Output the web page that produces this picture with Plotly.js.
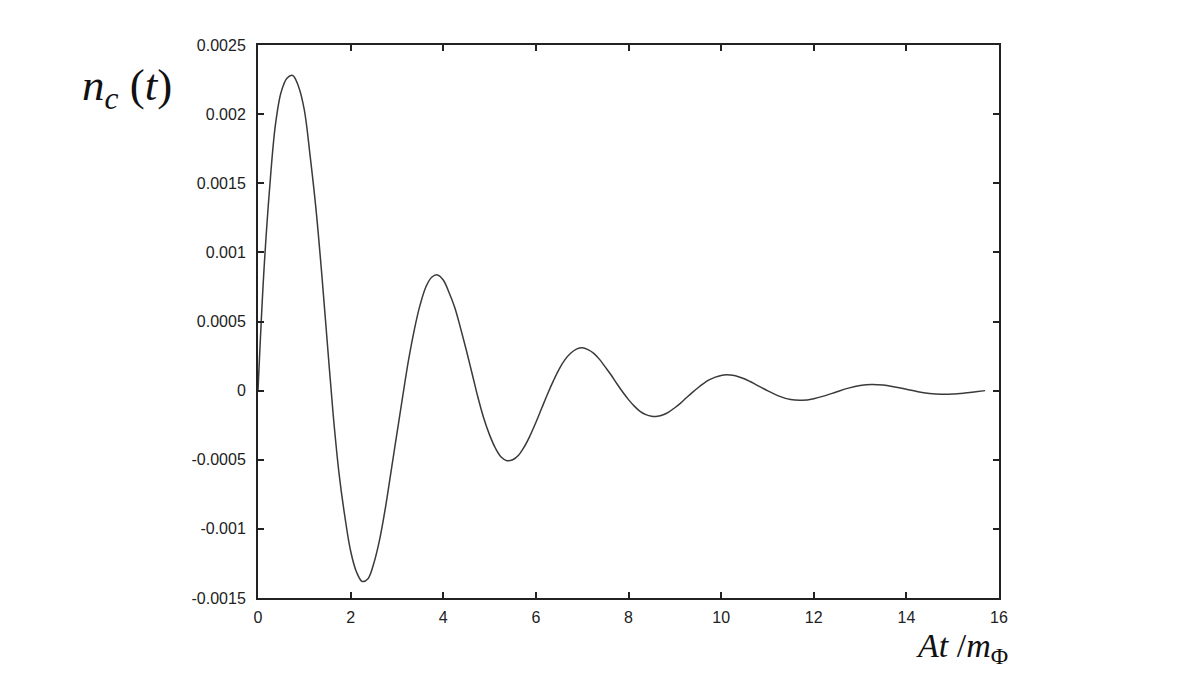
<!DOCTYPE html>
<html>
<head>
<meta charset="utf-8">
<script src="https://cdn.plot.ly/plotly-3.0.1.min.js"></script>
<style>
  html, body { margin: 0; padding: 0; background: #ffffff; }
  #chart { width: 1196px; height: 673px; }
</style>
</head>
<body>
<div id="chart"></div>
<script>
/* n_c(t) против At/m_Phi */
var tValues = [
    0, 0.125, 0.25, 0.375, 0.5, 0.625, 0.75, 0.875, 1.0, 1.125, 1.25, 1.375,
    1.5, 1.625, 1.75, 1.875, 2.0, 2.125, 2.25, 2.375, 2.5, 2.625, 2.75, 2.875,
    3.0, 3.125, 3.25, 3.375, 3.5, 3.625, 3.75, 3.875, 4.0, 4.125, 4.25, 4.375,
    4.5, 4.625, 4.75, 4.875, 5.0, 5.125, 5.25, 5.375, 5.5, 5.625, 5.75, 5.875,
    6.0, 6.125, 6.25, 6.375, 6.5, 6.625, 6.75, 6.875, 7.0, 7.125, 7.25, 7.375,
    7.5, 7.625, 7.75, 7.875, 8.0, 8.125, 8.25, 8.375, 8.5, 8.625, 8.75, 8.875,
    9.0, 9.125, 9.25, 9.375, 9.5, 9.625, 9.75, 9.875, 10.0, 10.125, 10.25, 10.375,
    10.5, 10.625, 10.75, 10.875, 11.0, 11.25, 11.5, 11.75, 12.0, 12.25, 12.5, 12.75,
    13.0, 13.25, 13.5, 13.75, 14.0, 14.25, 14.5, 14.75, 15.0, 15.25, 15.5, 15.7
];
var ncValues = [
    0, 0.00085, 0.00146, 0.00192, 0.00216, 0.00226, 0.00228, 0.00220, 0.00203, 0.00170, 0.00132, 0.00085,
    0.00033, -0.00018, -0.00060, -0.00091, -0.00116, -0.00131, -0.00138, -0.00136, -0.00125, -0.00108, -0.00085, -0.00058,
    -0.00031, -0.00004, 0.00022, 0.00044, 0.00062, 0.00075, 0.00082, 0.000837, 0.00080, 0.00071, 0.00060, 0.00045,
    0.00029, 0.00012, -0.00005, -0.00020, -0.00032, -0.000415, -0.00048, -0.000507, -0.00050, -0.000467, -0.000406, -0.000325,
    -0.00023, -0.000128, -0.000026, 0.000069, 0.000154, 0.000222, 0.00027, 0.00030, 0.00031, 0.000297, 0.00027, 0.000226,
    0.00017, 0.000113, 0.00005, -0.00001, -0.000065, -0.000112, -0.00015, -0.000174, -0.000186, -0.000186, -0.000175, -0.000153,
    -0.000124, -0.00009, -0.000052, -0.0000145, 0.000021, 0.000053, 0.000079, 0.000098, 0.00011, 0.000114, 0.000111, 0.000101,
    0.000086, 0.000066, 0.000044, 0.000022, 0, -0.00004, -0.000065, -0.00007, -0.000058, -0.000036, -0.000008, 0.000018,
    0.000037, 0.000045, 0.00004, 0.000026, 0.00001, -0.000008, -0.00002, -0.000026, -0.000025, -0.000018, -0.000008, 0
];

var xTicks = [0, 2, 4, 6, 8, 10, 12, 14, 16];
var yTicks = [0.0025, 0.002, 0.0015, 0.001, 0.0005, 0, -0.0005, -0.001, -0.0015];
var yTickText = ['0.0025', '0.002', '0.0015', '0.001', '0.0005', '0', '-0.0005', '-0.001', '-0.0015'];

var data = [
    {
        x: tValues,
        y: ncValues,
        type: 'scatter',
        mode: 'lines',
        line: { color: '#3a3a3a', width: 1.5, shape: 'spline', smoothing: 1 },
        hoverinfo: 'x+y'
    }
];

var layout =
{
    width: 1196,
    height: 673,
    margin: { l: 258, r: 197, t: 45, b: 75 },
    paper_bgcolor: '#ffffff',
    plot_bgcolor: '#ffffff',
    showlegend: false,
    font: { family: 'Liberation Sans, Arial, sans-serif', size: 16, color: '#222222' },
    xaxis: {
        range: [0, 16],
        tickvals: xTicks,
        ticktext: xTicks.map(String),
        ticks: 'inside',
        ticklen: 6,
        tickwidth: 1.5,
        tickcolor: '#222222',
        ticklabelstandoff: 4,
        showline: true,
        linecolor: '#222222',
        linewidth: 2,
        mirror: 'ticks',
        showgrid: false,
        zeroline: false
    },
    yaxis: {
        range: [-0.0015, 0.0025],
        tickvals: yTicks,
        ticktext: yTickText,
        ticks: 'inside',
        ticklen: 6,
        tickwidth: 1.5,
        tickcolor: '#222222',
        ticklabelstandoff: 7,
        showline: true,
        linecolor: '#222222',
        linewidth: 2,
        mirror: 'ticks',
        showgrid: false,
        zeroline: false
    },
    annotations: [
        {
            text: '<i>n</i><sub><i>c</i></sub> (<i>t</i>)',
            xref: 'paper', yref: 'paper',
            x: -0.177, y: 0.922,
            xanchor: 'center', yanchor: 'middle',
            showarrow: false,
            font: { family: 'Liberation Serif, serif', size: 45, color: '#111111' }
        },
        {
            text: '<i>At</i> /<i>m</i><sub>Φ</sub>',
            xref: 'paper', yref: 'paper',
            x: 1.015, y: -0.09,
            xanchor: 'right', yanchor: 'middle',
            showarrow: false,
            font: { family: 'Liberation Serif, serif', size: 34, color: '#111111' }
        }
    ]
}

var config =
{
    displayModeBar: false,
    responsive: false
}

Plotly.newPlot('chart', data, layout, config);
</script>
</body>
</html>
